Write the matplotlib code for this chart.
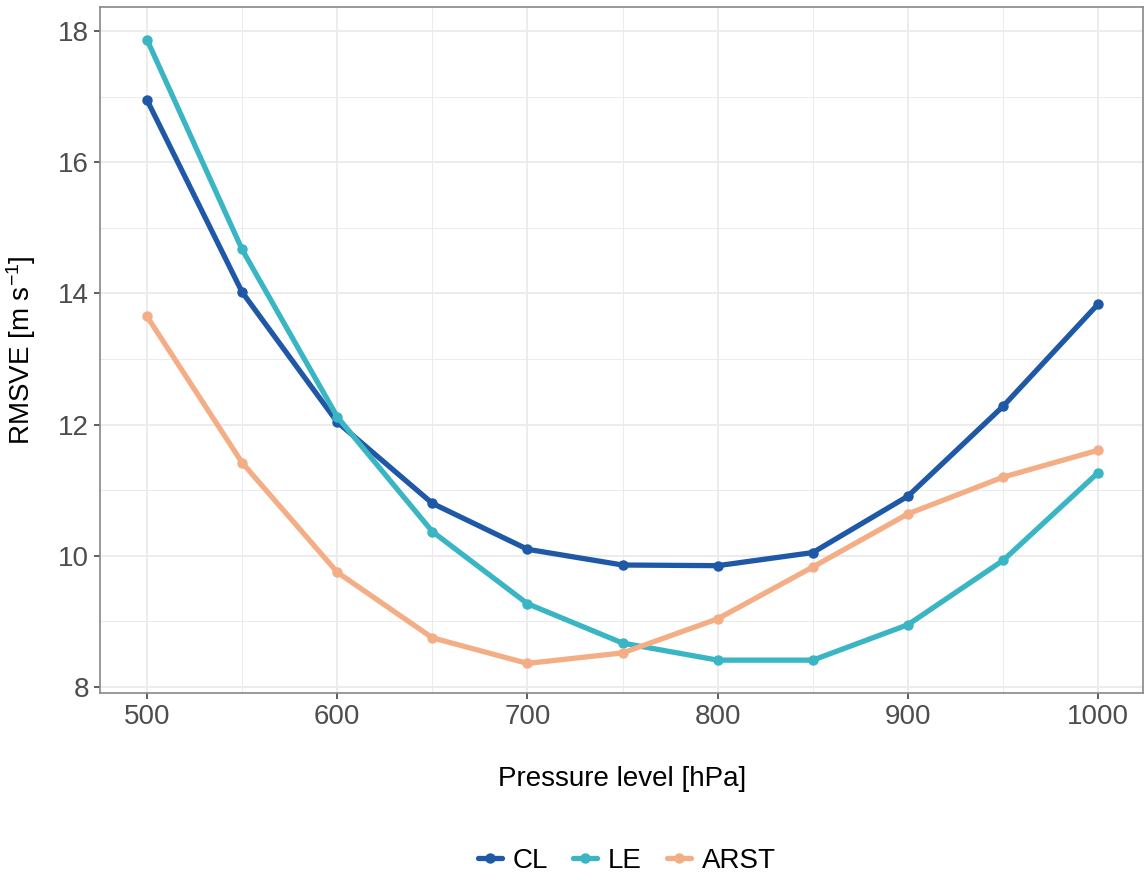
import matplotlib
matplotlib.use("Agg")
import matplotlib.pyplot as plt
from matplotlib.ticker import MultipleLocator

plt.rcParams['font.family'] = ['Liberation Sans', 'DejaVu Sans']
plt.rcParams['mathtext.fontset'] = 'custom'
plt.rcParams['mathtext.rm'] = 'Liberation Sans'
plt.rcParams['mathtext.it'] = 'Liberation Sans'

# data
pressure = [500, 550, 600, 650, 700, 750, 800, 850, 900, 950, 1000]
cl = [16.95, 14.02, 12.04, 10.80, 10.10, 9.86, 9.85, 10.05, 10.91, 12.28, 13.84]
le = [17.87, 14.67, 12.12, 10.37, 9.27, 8.67, 8.41, 8.41, 8.95, 9.93, 11.27]
arst = [13.65, 11.42, 9.75, 8.75, 8.36, 8.52, 9.04, 9.83, 10.64, 11.20, 11.61]

series = [("CL", cl, "#1F58A6"), ("LE", le, "#3AB5C3"), ("ARST", arst, "#F4AE86")]

TICK_COLOR = "#4D4D4D"
GRID_COLOR = "#EBEBEB"
FONTSIZE = 20

fig = plt.figure(figsize=(11.44, 8.8), dpi=100)
ax = fig.add_axes([0.0874, 0.2125, 0.912, 0.7795])

for name, vals, col in series:
    ax.plot(pressure, vals, color=col, linewidth=3.8, marker='o',
            markersize=6.5, label=name, solid_capstyle='round', zorder=3)

ax.set_xlim(475.3, 1023.7)
ax.set_ylim(7.909, 18.366)
ax.xaxis.set_major_locator(MultipleLocator(100))
ax.xaxis.set_minor_locator(MultipleLocator(50))
ax.yaxis.set_major_locator(MultipleLocator(2))
ax.yaxis.set_minor_locator(MultipleLocator(1))

ax.grid(which='major', color=GRID_COLOR, linewidth=1.3, zorder=0)
ax.grid(which='minor', color=GRID_COLOR, linewidth=0.7, zorder=0)
ax.set_axisbelow(True)

for spine in ax.spines.values():
    spine.set_color("#888888")
    spine.set_linewidth(1.2)

ax.tick_params(which='major', length=4, width=1.1, color="#333333",
               labelsize=FONTSIZE, labelcolor=TICK_COLOR, pad=4)
ax.tick_params(which='minor', length=0)

ax.set_xlabel("Pressure level [hPa]", fontsize=FONTSIZE, color="black", labelpad=26)
ax.set_ylabel(r"RMSVE [m s$^{-1}$]", fontsize=FONTSIZE, color="black", labelpad=14)

handles, labels = ax.get_legend_handles_labels()
fig.legend(handles, labels, loc='center', bbox_to_anchor=(0.548, 0.022),
           ncol=3, frameon=False, fontsize=FONTSIZE, handlelength=0.85,
           handletextpad=0.4, columnspacing=0.9)

fig.savefig("out.png", dpi=100)
